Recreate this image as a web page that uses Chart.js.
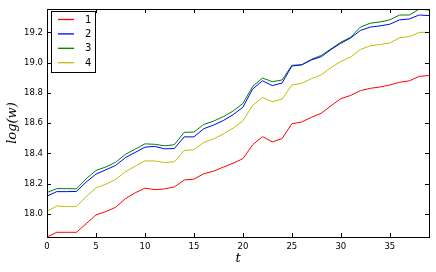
<!DOCTYPE html>
<html>
<head>
<meta charset="utf-8">
<script src="https://cdn.jsdelivr.net/npm/chart.js@4"></script>
<style>
  html, body { margin: 0; padding: 0; background: #ffffff; }
  #wrap { width: 436px; height: 272px; }
</style>
</head>
<body>
<div id="wrap"><canvas id="chart" width="436" height="272"></canvas></div>
<script>
// Data
const steps = [0, 1, 2, 3, 4, 5, 6, 7, 8, 9, 10, 11, 12, 13, 14, 15, 16, 17, 18, 19,
  20, 21, 22, 23, 24, 25, 26, 27, 28, 29, 30, 31, 32, 33, 34, 35, 36, 37, 38, 39];
const seriesNames = ["1", "2", "3", "4"];
const series1 = [17.847, 17.878, 17.878, 17.878, 17.935, 17.993, 18.015, 18.043, 18.100, 18.139,
  18.170, 18.160, 18.165, 18.178, 18.224, 18.230, 18.265, 18.282, 18.309, 18.335,
  18.365, 18.457, 18.511, 18.476, 18.498, 18.596, 18.607, 18.639, 18.665, 18.715,
  18.762, 18.783, 18.815, 18.830, 18.839, 18.852, 18.870, 18.880, 18.909, 18.915];
const series2 = [18.117, 18.147, 18.147, 18.148, 18.210, 18.263, 18.291, 18.320, 18.372, 18.406,
  18.441, 18.446, 18.430, 18.432, 18.509, 18.509, 18.563, 18.587, 18.617, 18.656,
  18.705, 18.826, 18.880, 18.848, 18.865, 18.978, 18.985, 19.018, 19.039, 19.087,
  19.128, 19.163, 19.213, 19.235, 19.243, 19.254, 19.283, 19.289, 19.315, 19.311];
const series3 = [18.141, 18.167, 18.167, 18.165, 18.232, 18.287, 18.310, 18.341, 18.393, 18.428,
  18.463, 18.460, 18.450, 18.457, 18.539, 18.541, 18.591, 18.613, 18.643, 18.680,
  18.730, 18.843, 18.898, 18.874, 18.885, 18.982, 18.986, 19.022, 19.048, 19.091,
  19.135, 19.168, 19.235, 19.261, 19.269, 19.283, 19.315, 19.315, 19.354, 19.348];
const series4 = [18.017, 18.052, 18.048, 18.048, 18.115, 18.172, 18.196, 18.228, 18.278, 18.315,
  18.350, 18.350, 18.339, 18.345, 18.419, 18.424, 18.472, 18.496, 18.528, 18.567,
  18.615, 18.718, 18.770, 18.741, 18.759, 18.852, 18.863, 18.894, 18.920, 18.967,
  19.008, 19.037, 19.087, 19.111, 19.120, 19.130, 19.165, 19.172, 19.200, 19.200];
const xTicks = [0, 5, 10, 15, 20, 25, 30, 35];
const yTicks = [18.0, 18.2, 18.4, 18.6, 18.8, 19.0, 19.2];

const colors = ["#ff0000", "#0000ff", "#008000", "#bfbf00"];
const allSeries = [series1, series2, series3, series4];
const allValues = [].concat(...allSeries);

const datasets = allSeries.map((values, i) => ({
  label: seriesNames[i],
  data: values.map((v, j) => ({ x: steps[j], y: v })),
  borderColor: colors[i],
  backgroundColor: colors[i],
  borderWidth: 1,
  pointRadius: 0,
  tension: 0,
  fill: false,
}));

// frame, inward ticks, legend box and axis titles (matplotlib classic look)
const framePlugin = {
  id: "frame",
  afterDraw(chart) {
    const ctx = chart.ctx;
    const { left, right, top, bottom } = chart.chartArea;
    const xs = chart.scales.x;
    const ys = chart.scales.y;
    ctx.save();
    ctx.strokeStyle = "#000000";
    ctx.lineWidth = 1;
    ctx.beginPath();
    xTicks.forEach((t) => {
      const px = Math.round(xs.getPixelForValue(t)) + 0.5;
      ctx.moveTo(px, bottom); ctx.lineTo(px, bottom - 4);
      ctx.moveTo(px, top); ctx.lineTo(px, top + 4);
    });
    yTicks.forEach((t) => {
      const py = Math.round(ys.getPixelForValue(t)) + 0.5;
      ctx.moveTo(left, py); ctx.lineTo(left + 4, py);
      ctx.moveTo(right, py); ctx.lineTo(right - 4, py);
    });
    ctx.stroke();
    ctx.strokeRect(Math.round(left) + 0.5, Math.round(top) + 0.5,
      Math.round(right - left), Math.round(bottom - top));

    // legend
    const lx = 51, ly = 11, lw = 44, lh = 61;
    ctx.fillStyle = "#ffffff";
    ctx.fillRect(lx, ly, lw, lh);
    ctx.strokeStyle = "#000000";
    ctx.strokeRect(lx + 0.5, ly + 0.5, lw, lh);
    ctx.font = "10px 'DejaVu Sans'";
    ctx.textBaseline = "middle";
    ctx.textAlign = "left";
    seriesNames.forEach((name, i) => {
      const y = 19.5 + i * 14.4;
      ctx.strokeStyle = colors[i];
      ctx.lineWidth = 1.3;
      ctx.beginPath();
      ctx.moveTo(58, y);
      ctx.lineTo(74, y);
      ctx.stroke();
      ctx.fillStyle = "#000000";
      ctx.fillText(name, 85, y + 0.5);
    });

    // axis titles
    ctx.fillStyle = "#000000";
    ctx.font = "italic 13px 'DejaVu Serif'";
    ctx.textAlign = "center";
    ctx.textBaseline = "middle";
    ctx.fillText("t", (left + right) / 2, 259);
    ctx.translate(13, (top + bottom) / 2);
    ctx.rotate(-Math.PI / 2);
    ctx.fillText("log(w)", 0, 0);
    ctx.restore();
  },
};

new Chart(document.getElementById("chart"), {
  type: "line",
  data: { datasets },
  options: {
    responsive: false,
    animation: false,
    layout: { padding: { top: 6, right: 7, left: 0, bottom: 0 } },
    plugins: {
      legend: { display: false },
      tooltip: { enabled: false },
    },
    scales: {
      x: {
        type: "linear",
        min: steps[0],
        max: steps[steps.length - 1],
        grid: { display: false, drawTicks: false },
        border: { display: false },
        afterBuildTicks: (scale) => { scale.ticks = xTicks.map((v) => ({ value: v })); },
        afterFit: (scale) => { scale.height = 35; },
        ticks: {
          padding: 5,
          color: "#000000",
          maxRotation: 0,
          font: { family: "DejaVu Sans", size: 8.5 },
        },
      },
      y: {
        min: Math.min(...allValues),
        max: Math.max(...allValues),
        grid: { display: false, drawTicks: false },
        border: { display: false },
        afterBuildTicks: (scale) => { scale.ticks = yTicks.map((v) => ({ value: v })); },
        afterFit: (scale) => { scale.width = 47; },
        ticks: {
          padding: 4,
          color: "#000000",
          font: { family: "DejaVu Sans", size: 8.5 },
          callback: (v) => v.toFixed(1),
        },
      },
    },
  },
  plugins: [framePlugin],
});
</script>
</body>
</html>
